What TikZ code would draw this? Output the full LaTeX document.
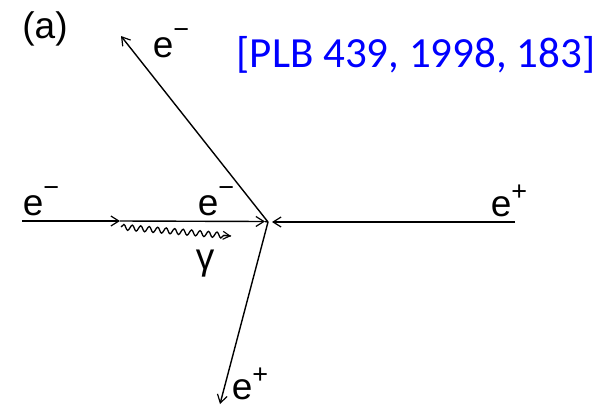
\documentclass[tikz,border=0pt]{standalone}
\usepackage{fontspec}
\setmainfont{Liberation Sans}
\newfontfamily\calib{Carlito}
\usetikzlibrary{arrows.meta,decorations.pathmorphing,calc}
\newcommand{\supm}{\raisebox{0.5em}{\fontsize{27}{27}\selectfont −}}
\newcommand{\supp}{\raisebox{0.45em}{\fontsize{27}{27}\selectfont +}}
\begin{document}
\begin{tikzpicture}[x=1pt,y=-1pt,
  fline/.style={line width=1.4pt,-{Straight Barb[length=8pt,width=10pt,line width=1.2pt]}},
  plain/.style={line width=1.4pt},
  lbl/.style={font=\fontsize{37}{37}\selectfont,inner sep=0pt},
  photon/.style={line width=1.3pt,decorate,decoration={snake,amplitude=2.8pt,segment length=8.5pt,post length=6pt}}
]
\useasboundingbox (0,0) rectangle (600,408);
\coordinate (V) at (268,222);
\coordinate (L) at (22,221);
\coordinate (M) at (120,221);
\coordinate (R) at (515,222);
\coordinate (U) at (121,36);
\coordinate (D) at (220,404);
\coordinate (P1) at (121,227);
\coordinate (P2) at (231,236);
\draw[fline] (L) -- (M);
\draw[fline] (M) -- (265,221.5) coordinate (Vl);
\draw[plain] (Vl) -- (V);
\draw[fline] (R) -- (272,222);
\draw[fline] (V) -- (U);
\draw[fline] (V) -- (D);
\draw[photon] (P1) -- (P2);
\draw[line width=1.2pt,-{Straight Barb[length=7pt,width=8pt,line width=1.1pt]}] ($(P1)!0.93!(P2)$) -- (P2);
\node[lbl] (a) at (45,29) {(a)};
\node[lbl] (eu) at (171,43) {e\supm};
\node[lbl] (el) at (41,201) {e\supm};
\node[lbl] (em) at (216,201) {e\supm};
\node[lbl] (er) at (509,201) {e\supp};
\node[lbl] (ed) at (250,384) {e\supp};
\node[lbl] (g) at (205,264) {γ};
\node[inner sep=0pt,text=blue,font=\calib\fontsize{43}{43}\selectfont] (ref) at (416,55) {[PLB 439, 1998, 183]};
\end{tikzpicture}
\end{document}
